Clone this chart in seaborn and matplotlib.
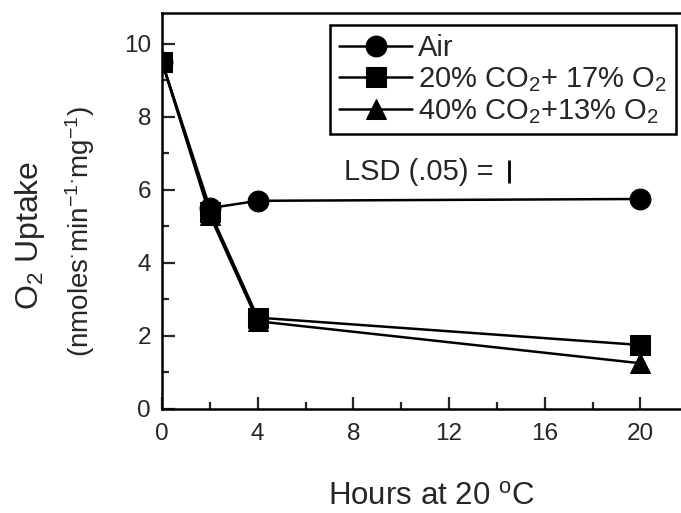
import pandas as pd
import numpy as np
import matplotlib.pyplot as plt
import seaborn as sns

sns.set_style("ticks")
plt.rcParams['font.family'] = ['Liberation Sans', 'DejaVu Sans']
plt.rcParams['mathtext.fontset'] = 'custom'
plt.rcParams['mathtext.rm'] = 'Liberation Sans'
plt.rcParams['mathtext.it'] = 'Liberation Sans'

# data
hours = [0, 2, 4, 20]
air = [9.5, 5.5, 5.7, 5.75]
co2_20 = [9.5, 5.4, 2.5, 1.75]
co2_40 = [9.5, 5.3, 2.4, 1.25]
labels = ['Air', '20% CO$_2$+ 17% O$_2$', '40% CO$_2$+13% O$_2$']
lsd = 0.65

df = pd.DataFrame({
    'hours': hours * 3,
    'uptake': air + co2_20 + co2_40,
    'trt': [labels[0]] * 4 + [labels[1]] * 4 + [labels[2]] * 4,
})

fig = plt.figure(figsize=(6.81, 5.13), dpi=100)
ax = fig.add_axes([0.238, 0.203, 0.762, 0.772])

sns.lineplot(data=df, x='hours', y='uptake', hue='trt', style='trt',
             palette=['black'] * 3, markers=['o', 's', '^'], dashes=False,
             lw=1.8, markersize=15, markeredgecolor='black', ax=ax)

ax.set_xlim(0, 21.7)
ax.set_ylim(0, 10.85)
ax.set_xticks([0, 4, 8, 12, 16, 20])
ax.set_xticks(np.arange(2, 21, 4), minor=True)
ax.set_yticks([0, 2, 4, 6, 8, 10])
ax.set_yticks([1, 3, 5, 7, 9], minor=True)
ax.tick_params(which='major', direction='in', length=9, width=1.6, labelsize=17.5)
ax.tick_params(axis='x', which='major', pad=10)
ax.tick_params(axis='y', which='major', pad=8)
ax.tick_params(which='minor', direction='in', length=5, width=1.6)
for s in ['left', 'bottom', 'top']:
    ax.spines[s].set_linewidth(1.8)
    ax.spines[s].set_color('black')
ax.spines['right'].set_visible(False)

ax.set_xlabel('')
ax.set_ylabel('')
fig.text(0.633, 0.031, 'Hours at 20 $^{\\rm o}$C', ha='center', va='center', fontsize=22.5)
fig.text(0.044, 0.542, 'O$_2$ Uptake', rotation=90, ha='center', va='center', fontsize=23)
fig.text(0.117, 0.548, '(nmoles$^{\\cdot}$min$^{-1}$$^{\\cdot}$mg$^{-1}$)', rotation=90,
         ha='center', va='center', fontsize=20)

# LSD label and bar
ax.text(7.6, 6.5, 'LSD (.05) =', ha='left', va='center', fontsize=21)
ax.vlines(14.5, 6.5 - lsd / 2, 6.5 + lsd / 2, color='black', lw=2)

leg = ax.legend(loc='upper right', bbox_to_anchor=(0.99, 0.968), fontsize=21,
                frameon=True, fancybox=False, edgecolor='black', framealpha=1,
                handlelength=2.5, handletextpad=0.2, labelspacing=0.1,
                borderpad=0.3, borderaxespad=0)
leg.get_frame().set_linewidth(1.8)
for h in leg.legend_handles:
    h.set_markersize(15)

fig.savefig('out.png', dpi=100)
